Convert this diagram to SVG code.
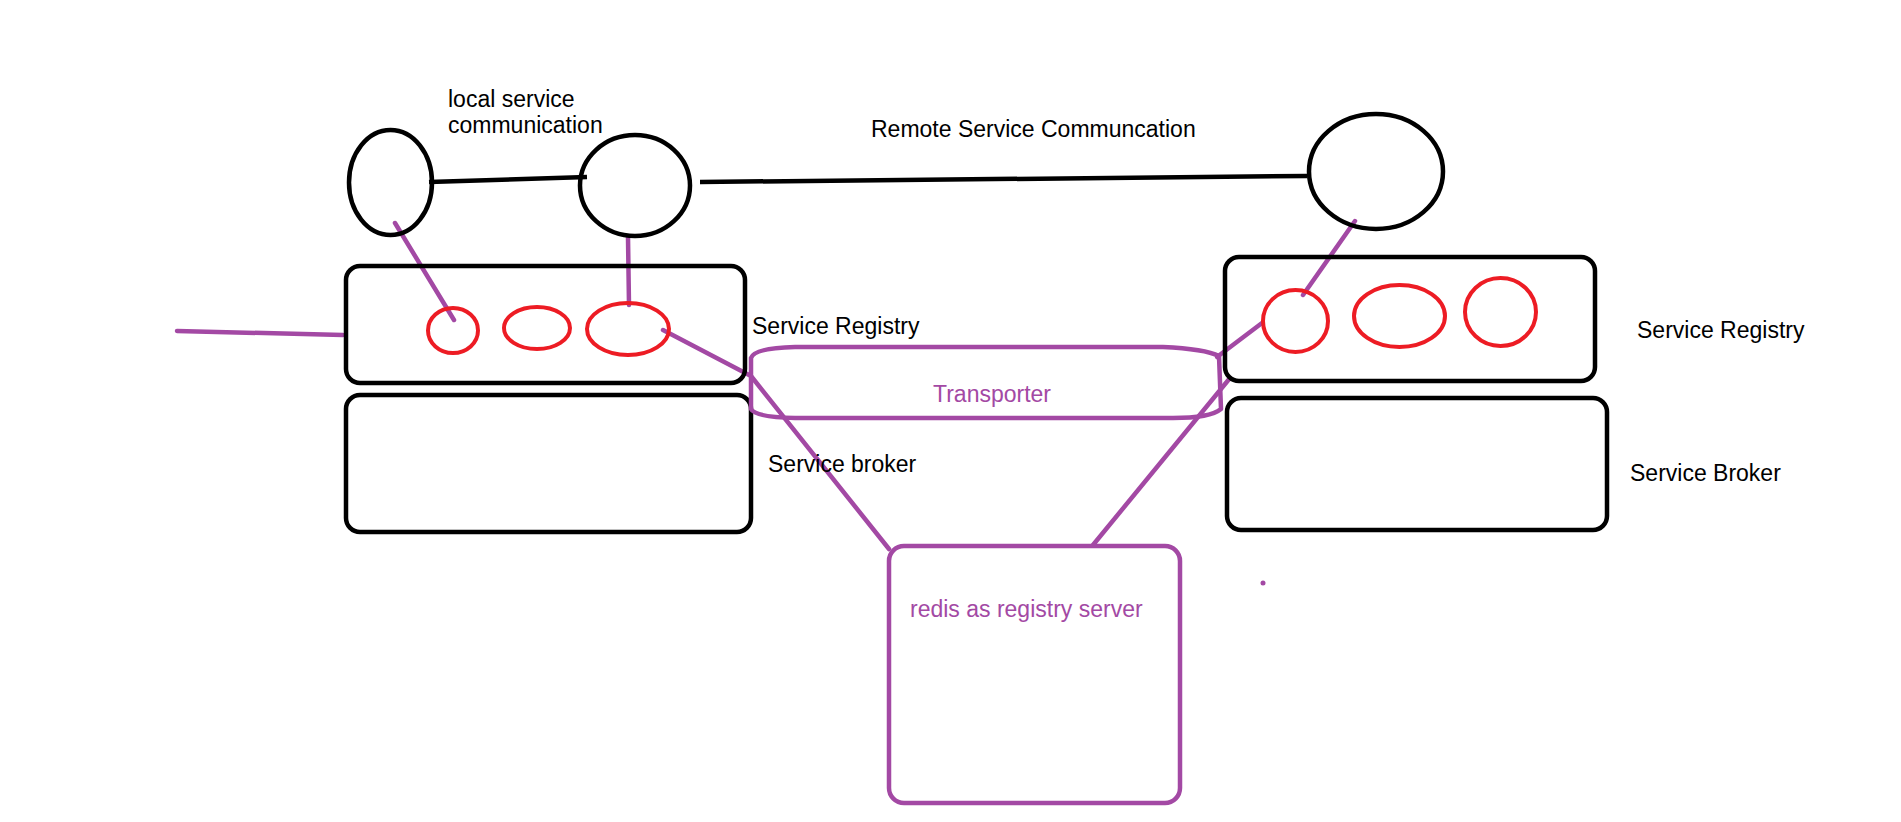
<svg xmlns="http://www.w3.org/2000/svg" width="1901" height="822" viewBox="0 0 1901 822">
<style>
.bk{fill:none;stroke:#000;stroke-width:4.5}
.rd{fill:none;stroke:#ED1C24;stroke-width:4}
.pu{fill:none;stroke:#A349A4;stroke-width:4.5;stroke-linecap:round;stroke-linejoin:round}
.t{font-family:"Liberation Sans",Arial,sans-serif;font-size:23px;fill:#000}
.tp{font-family:"Liberation Sans",Arial,sans-serif;font-size:23px;fill:#A349A4}
</style>
<rect width="1901" height="822" fill="#fff"/>
<g id="connectors">
<path class="bk" d="M429,182 L587,177"/>
<path class="bk" d="M700,182 L1307,176"/>
<path class="pu" d="M395,223 L454,320"/>
<path class="pu" d="M628,237 L629,305"/>
<path class="pu" d="M177,331 L343,335"/>
<path class="pu" d="M663,330 L751,376 L889,549"/>
<path class="pu" d="M1355,221 L1303,295"/>
<path class="pu" d="M1262,323 L1217,357"/>
<path class="pu" d="M1230,378 L1093,545"/>
<circle cx="1263" cy="583" r="2.5" fill="#A349A4"/>
</g>
<g id="service-a"><ellipse class="bk" cx="390.5" cy="182.5" rx="41.5" ry="52.5"/></g>
<g id="service-b"><ellipse class="bk" cx="635" cy="185.5" rx="55" ry="50.5"/></g>
<g id="service-c"><ellipse class="bk" cx="1376" cy="171.5" rx="67" ry="57.5"/></g>
<g id="local-label"><text class="t" x="448" y="107">local service</text><text class="t" x="448" y="133">communication</text></g>
<g id="remote-label"><text class="t" x="871" y="137">Remote Service Communcation</text></g>
<g id="registry-left">
<rect class="bk" x="346" y="266" width="399" height="117" rx="14"/>
<ellipse class="rd" cx="453" cy="330.5" rx="25" ry="22.5"/>
<ellipse class="rd" cx="537" cy="328" rx="33" ry="21"/>
<ellipse class="rd" cx="628" cy="329" rx="41" ry="26"/>
<text class="t" x="752" y="334">Service Registry</text>
</g>
<g id="broker-left">
<rect class="bk" x="346" y="395" width="405" height="137" rx="14"/>
<text class="t" x="768" y="472">Service broker</text>
</g>
<g id="registry-right">
<rect class="bk" x="1225" y="257" width="370" height="124" rx="14"/>
<ellipse class="rd" cx="1295.5" cy="321" rx="32.5" ry="31"/>
<ellipse class="rd" cx="1399.5" cy="316" rx="45.5" ry="31"/>
<ellipse class="rd" cx="1500.5" cy="312" rx="35.5" ry="34"/>
<text class="t" x="1637" y="338">Service Registry</text>
</g>
<g id="broker-right">
<rect class="bk" x="1227" y="398" width="380" height="132" rx="14"/>
<text class="t" x="1630" y="481">Service Broker</text>
</g>
<g id="transporter">
<path class="pu" d="M751,358 Q754,348 795,347 L1163,347 Q1205,349 1219,356 L1221,409 Q1210,418 1173,418 L795,418 Q755,417 751,409 Z"/>
<text class="tp" x="933" y="402">Transporter</text>
</g>
<g id="redis">
<rect class="pu" x="889" y="546" width="291" height="257" rx="15"/>
<text class="tp" x="910" y="617">redis as registry server</text>
</g>
</svg>
